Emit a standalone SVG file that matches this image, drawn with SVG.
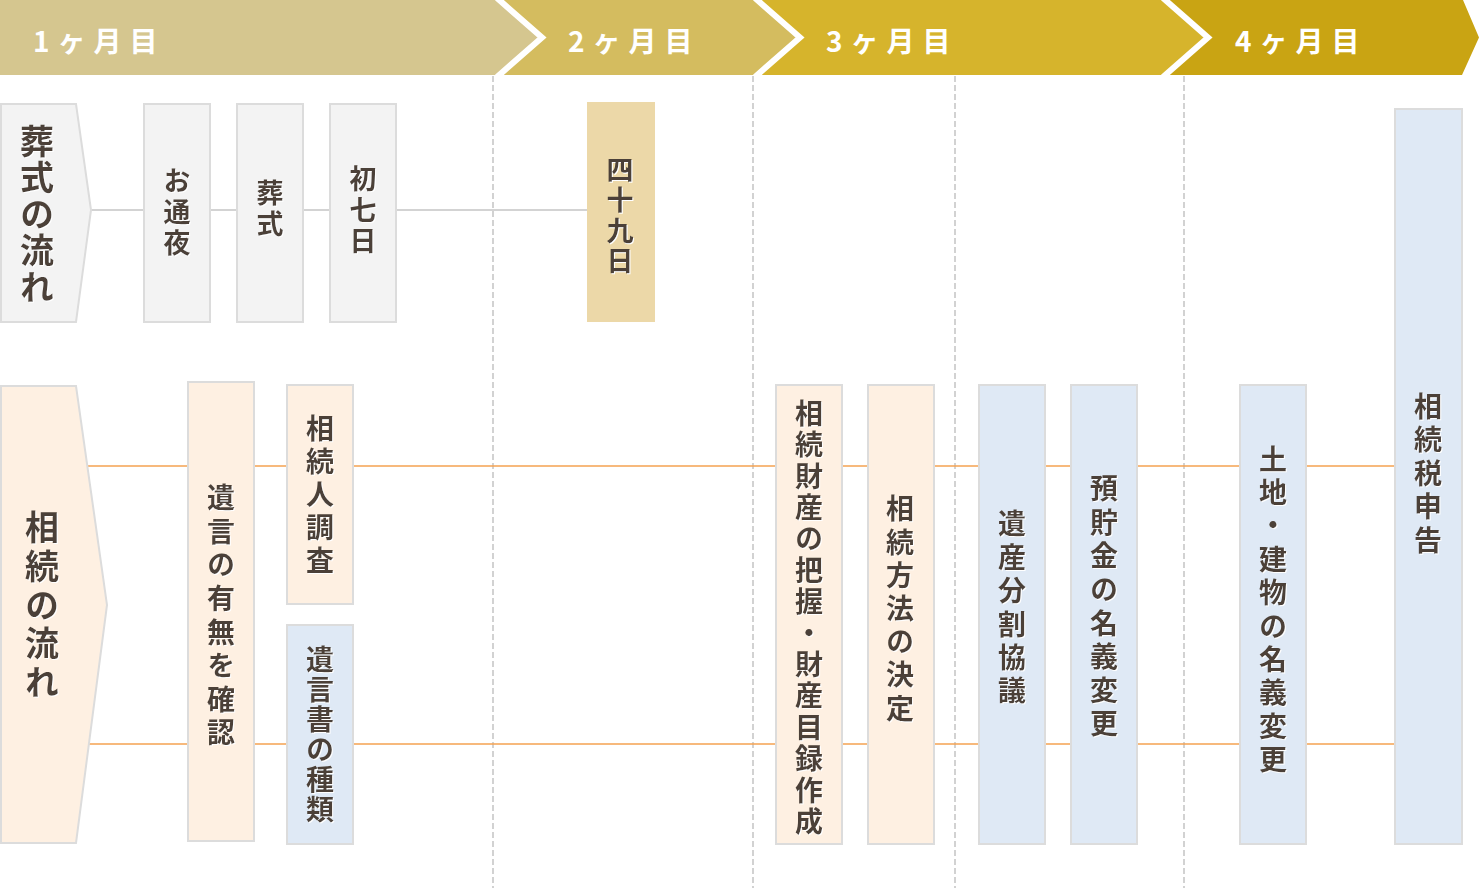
<svg xmlns="http://www.w3.org/2000/svg" width="1479" height="888" viewBox="0 0 1479 888">
<defs>
<filter id="ws" x="-20%" y="-5%" width="140%" height="110%">
<feDropShadow dx="1" dy="1" stdDeviation="0" flood-color="#ffffff" flood-opacity="1"/>
</filter>
<style>
.hd{font-family:"Noto Sans CJK JP","Noto Sans",sans-serif;font-size:28px;font-weight:700;fill:#ffffff;letter-spacing:8px}
.vt{font-family:"Noto Sans CJK JP","Noto Sans",sans-serif;font-weight:700;fill:#4b4037;writing-mode:vertical-rl;text-orientation:upright;text-anchor:middle;filter:url(#ws)}
.gray{fill:#f3f3f3;stroke:#dcdcdc;stroke-width:2}
.peach{fill:#fef0e2;stroke:#dcdcdc;stroke-width:2}
.blue{fill:#dfe9f5;stroke:#dcdcdc;stroke-width:2}
.gold{fill:#ecd8a8}
.dash{stroke:#d2d2d2;stroke-width:2;stroke-dasharray:6 3;fill:none}
.gl{stroke:#c4c4c4;stroke-width:1.5;fill:none}
.ol{stroke:#f5a251;stroke-width:1.5;fill:none}
.chev{fill:none;stroke:#ffffff;stroke-width:6}
</style>
</defs>
<rect x="0" y="0" width="1479" height="888" fill="#ffffff"/>

<g id="header">
<polygon points="0,0 497,0 542,37.5 497,75 0,75" fill="#d5c68f"/>
<polygon points="497,0 755,0 800,37.5 755,75 497,75 542,37.5" fill="#d4bc5f"/>
<polygon points="755,0 1163,0 1208,37.5 1163,75 755,75 800,37.5" fill="#d6b42c"/>
<polygon points="1163,0 1463,0 1479,37.5 1462,75 1163,75 1208,37.5" fill="#c9a413"/>
<polyline class="chev" points="497,-2 542,37.5 497,77"/>
<polyline class="chev" points="755,-2 800,37.5 755,77"/>
<polyline class="chev" points="1163,-2 1208,37.5 1163,77"/>
<text class="hd" x="33" y="52">1ヶ月目</text>
<text class="hd" x="568" y="52">2ヶ月目</text>
<text class="hd" x="826" y="52">3ヶ月目</text>
<text class="hd" x="1235" y="52">4ヶ月目</text>
</g>

<g id="dividers">
<line class="dash" x1="493" y1="76" x2="493" y2="888"/>
<line class="dash" x1="753" y1="76" x2="753" y2="888"/>
<line class="dash" x1="955" y1="76" x2="955" y2="888"/>
<line class="dash" x1="1184" y1="76" x2="1184" y2="888"/>
</g>

<g id="connectors">
<line class="gl" x1="85" y1="210" x2="588" y2="210"/>
<line class="ol" x1="85" y1="466" x2="1396" y2="466"/>
<line class="ol" x1="85" y1="744" x2="1396" y2="744"/>
</g>

<g id="funeral-flow">
<polygon class="gray" points="1,104 76,104 91,210 76,322 1,322"/>
<text class="vt" x="37" y="215" style="font-size:34px;letter-spacing:2.5px">葬式の流れ</text>
</g>
<g id="otsuya">
<rect class="gray" x="144" y="104" width="66" height="218"/>
<text class="vt" x="177" y="214" style="font-size:27px;letter-spacing:4px">お通夜</text>
</g>
<g id="soshiki">
<rect class="gray" x="237" y="104" width="66" height="218"/>
<text class="vt" x="270" y="210" style="font-size:27px;letter-spacing:4px">葬式</text>
</g>
<g id="shonanoka">
<rect class="gray" x="330" y="104" width="66" height="218"/>
<text class="vt" x="363" y="212" style="font-size:27px;letter-spacing:4px">初七日</text>
</g>
<g id="shijukunichi">
<rect class="gold" x="587" y="102" width="68" height="220"/>
<text class="vt" x="620" y="217" style="font-size:27px;letter-spacing:3.5px">四十九日</text>
</g>

<g id="inherit-flow">
<polygon class="peach" points="1,386 76,386 107,605 76,843 1,843"/>
<text class="vt" x="42" y="607" style="font-size:34px;letter-spacing:4.7px">相続の流れ</text>
</g>
<g id="will-check">
<rect class="peach" x="188" y="382" width="66" height="459"/>
<text class="vt" x="221" y="618" style="font-size:28px;letter-spacing:5.6px">遺言の有無を確認</text>
</g>
<g id="heir-survey">
<rect class="peach" x="287" y="385" width="66" height="219"/>
<text class="vt" x="320" y="497" style="font-size:28px;letter-spacing:5px">相続人調査</text>
</g>
<g id="will-types">
<rect class="blue" x="287" y="625" width="66" height="219"/>
<text class="vt" x="320" y="735" style="font-size:28px;letter-spacing:2px">遺言書の種類</text>
</g>
<g id="asset-list">
<rect class="peach" x="776" y="385" width="66" height="459"/>
<text class="vt" x="809" y="619" style="font-size:28px;letter-spacing:3.4px">相続財産の把握・財産目録作成</text>
</g>
<g id="method">
<rect class="peach" x="868" y="385" width="66" height="459"/>
<text class="vt" x="900" y="611" style="font-size:28px;letter-spacing:5.2px">相続方法の決定</text>
</g>
<g id="division">
<rect class="blue" x="979" y="385" width="66" height="459"/>
<text class="vt" x="1012" y="610" style="font-size:28px;letter-spacing:5.4px">遺産分割協議</text>
</g>
<g id="deposit">
<rect class="blue" x="1071" y="385" width="66" height="459"/>
<text class="vt" x="1104" y="609" style="font-size:28px;letter-spacing:5.6px">預貯金の名義変更</text>
</g>
<g id="real-estate">
<rect class="blue" x="1240" y="385" width="66" height="459"/>
<text class="vt" x="1273" y="612" style="font-size:28px;letter-spacing:5.4px">土地・建物の名義変更</text>
</g>
<g id="tax-return">
<rect class="blue" x="1395" y="109" width="67" height="735"/>
<text class="vt" x="1428" y="476" style="font-size:28px;letter-spacing:5.5px">相続税申告</text>
</g>
</svg>
